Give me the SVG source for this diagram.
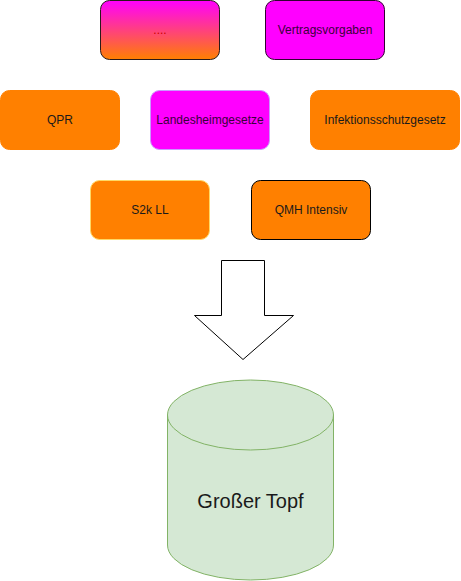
<svg xmlns="http://www.w3.org/2000/svg" width="461" height="581" viewBox="0 0 461 581">
<defs>
<linearGradient id="g1" x1="0" y1="0" x2="0" y2="1">
<stop offset="0" stop-color="#FF00FF"/>
<stop offset="1" stop-color="#FF8000"/>
</linearGradient>
<style>
text{font-family:"Liberation Sans",Arial,sans-serif;font-size:12px;text-anchor:middle;dominant-baseline:central;fill:#1a1a1a}
.mag{fill:#FF00FF}
.org{fill:#FF8000}
</style>
</defs>
<rect width="461" height="581" fill="#ffffff"/>
<g id="n-dots"><rect x="100.5" y="0.5" width="119" height="59" rx="9" fill="url(#g1)" stroke="#2a1a1a"/><text x="160" y="30" style="fill:#cc0000">....</text></g>
<g id="n-vertrag"><rect x="265.5" y="0.5" width="119" height="59" rx="9" class="mag" stroke="#330033"/><text x="325" y="30" style="fill:#3a003a">Vertragsvorgaben</text></g>
<g id="n-qpr"><rect x="0.5" y="90.5" width="119" height="59" rx="9" class="org" stroke="#FF8000"/><text x="60" y="120">QPR</text></g>
<g id="n-landes"><rect x="150.5" y="90.5" width="119" height="59" rx="9" class="mag" stroke="#CC99FF"/><text x="210" y="120" style="fill:#3a003a">Landesheimgesetze</text></g>
<g id="n-infekt"><rect x="310.5" y="90.5" width="149" height="59" rx="9" class="org" stroke="#FF8000"/><text x="385" y="120">Infektionsschutzgesetz</text></g>
<g id="n-s2k"><rect x="90.5" y="180.5" width="119" height="59" rx="9" class="org" stroke="#FFD966"/><text x="150" y="210">S2k LL</text></g>
<g id="n-qmh"><rect x="251.5" y="180.5" width="119" height="59" rx="9" class="org" stroke="#000000"/><text x="311" y="210">QMH Intensiv</text></g>
<g id="connectors"><path d="M221.5,260.5 H264.5 V315.5 H293.5 L243,359.5 L194.5,315.5 H221.5 Z" fill="#ffffff" stroke="#000000" stroke-linejoin="miter"/></g>
<g id="n-topf">
<path d="M167.5,415 A83,35 0 0 1 333.5,415 V545 A83,35 0 0 1 167.5,545 Z" fill="#d5e8d4" stroke="#82b366"/>
<path d="M167.5,415 A83,35 0 0 0 333.5,415" fill="none" stroke="#82b366"/>
<text x="250.5" y="501" style="font-size:20px">Großer Topf</text>
</g>
</svg>
